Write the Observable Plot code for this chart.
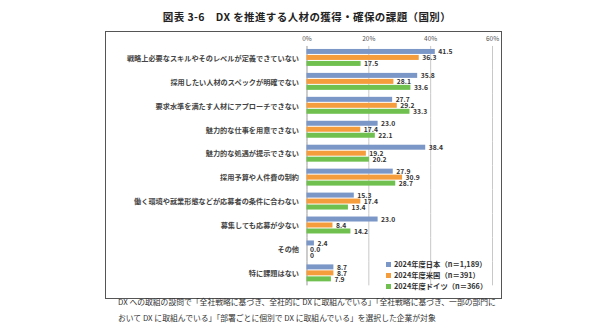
<!DOCTYPE html>
<html><head><meta charset="utf-8">
<script src="https://cdn.jsdelivr.net/npm/d3@7"></script>
<script src="https://cdn.jsdelivr.net/npm/@observablehq/plot@0.6"></script>
<style>
  html,body{margin:0;padding:0;background:#fff;}
  body{width:614px;height:334px;position:relative;overflow:hidden;font-family:"Noto Sans CJK JP","Noto Sans",sans-serif;color:#222;}
  #title{position:absolute;left:0;width:614px;top:9px;text-align:center;font-size:10.5px;font-weight:bold;letter-spacing:0.4px;}
  #frame{position:absolute;left:105px;top:31px;width:395px;height:266px;border:1.3px solid #555;box-sizing:content-box;}
  #chart{position:absolute;left:0;top:0;}
  #legend{position:absolute;left:280px;top:227px;font-size:7.3px;font-weight:bold;color:#333;line-height:11px;}
  #legend .sw{display:inline-block;width:5px;height:5px;margin-right:3px;vertical-align:0px;}
  #note{position:absolute;left:118px;top:294px;font-size:7.8px;line-height:16px;color:#333;white-space:nowrap;}
</style></head>
<body>
<div id="title">図表 3-6　DX を推進する人材の獲得・確保の課題（国別）</div>
<div id="frame"><div id="chart"></div><div id="legend"></div></div>
<div id="note">DX への取組の設問で「全社戦略に基づき、全社的に DX に取組んでいる」「全社戦略に基づき、一部の部門に<br>おいて DX に取組んでいる」「部署ごとに個別で DX に取組んでいる」を選択した企業が対象</div>
<script>
const categories = [
  "戦略上必要なスキルやそのレベルが定義できていない",
  "採用したい人材のスペックが明確でない",
  "要求水準を満たす人材にアプローチできない",
  "魅力的な仕事を用意できない",
  "魅力的な処遇が提示できない",
  "採用予算や人件費の制約",
  "働く環境や就業形態などが応募者の条件に合わない",
  "募集しても応募が少ない",
  "その他",
  "特に課題はない"
];
const series = ["2024年度日本（n＝1,189）", "2024年度米国（n＝391）", "2024年度ドイツ（n＝366）"];
const japan   = [41.5, 35.8, 27.7, 23.0, 38.4, 27.9, 15.3, 23.0, 2.4, 8.7];
const usa     = [36.3, 28.1, 29.2, 17.4, 19.2, 30.9, 17.4, 8.4, 0.0, 8.7];
const germany = [17.5, 33.6, 33.3, 22.1, 20.2, 28.7, 13.4, 14.2, 0, 7.9];
const labelsGermany = ["17.5","33.6","33.3","22.1","20.2","28.7","13.4","14.2","0","7.9"];
const xTicks = [0, 20, 40, 60];
const colors = ["#7b97c8", "#f59c3c", "#6fc04f"];

const valuesBySeries = [japan, usa, germany];
const data = [];
categories.forEach((c, i) => {
  series.forEach((s, j) => {
    const v = valuesBySeries[j][i];
    data.push({category: c, series: s, value: v, label: j === 2 ? labelsGermany[i] : v.toFixed(1)});
  });
});

const chart = Plot.plot({
  width: 396,
  height: 267,
  marginLeft: 201,
  marginRight: 9,
  marginTop: 12,
  marginBottom: 11,
  style: {fontFamily: '"Noto Sans CJK JP", sans-serif', background: "transparent", overflow: "visible"},
  x: {domain: [0, 60], ticks: xTicks, tickFormat: d => d + "%", axis: "top", tickSize: 0, tickPadding: 5, label: null},
  fy: {domain: categories, padding: 0, axis: "left", tickSize: 0, tickPadding: 8, label: null},
  y: {domain: series, axis: null, paddingInner: 0.1, paddingOuter: 0.3},
  color: {domain: series, range: colors},
  marks: [
    Plot.ruleX(xTicks.filter(d => d > 0), {stroke: "#c8c8c8", strokeWidth: 1}),
    Plot.ruleX([0], {stroke: "#999", strokeWidth: 1}),
    Plot.barX(data, {fy: "category", y: "series", x: "value", fill: "series"}),
    Plot.text(data, {fy: "category", y: "series", x: "value", text: "label", dx: 3, textAnchor: "start", fontWeight: "bold", fontSize: 6.8, fill: "#333"})
  ]
});
chart.querySelectorAll('[aria-label="x-axis tick label"] text').forEach(t => {t.setAttribute("font-size", "6.5"); t.setAttribute("fill", "#555");});
chart.querySelectorAll('[aria-label="fy-axis tick label"] text').forEach(t => {t.setAttribute("font-size", "7.2"); t.setAttribute("font-weight", "bold"); t.setAttribute("fill", "#444");});
document.getElementById("chart").appendChild(chart);

const legend = document.getElementById("legend");
series.forEach((s, j) => {
  const row = document.createElement("div");
  row.innerHTML = `<span class="sw" style="background:${colors[j]}"></span>${s}`;
  legend.appendChild(row);
});
</script>
</body></html>
